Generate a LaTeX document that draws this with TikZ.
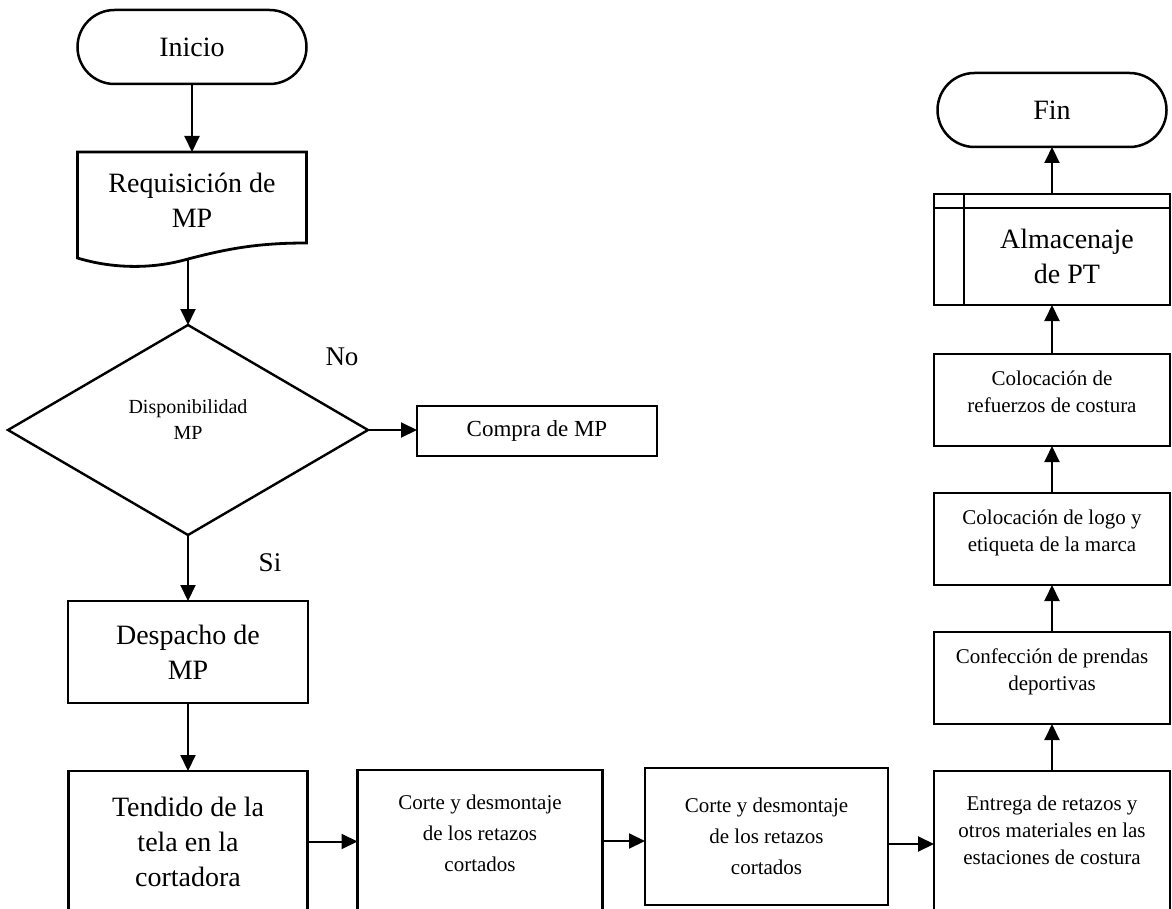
\documentclass[tikz,border=0pt]{standalone}
\usepackage{fontspec}
\setmainfont{Liberation Serif}
\usetikzlibrary{shapes.geometric,arrows.meta}

\newcommand{\grande}{\fontsize{28}{35}\selectfont}
\newcommand{\medio}{\fontsize{21}{27}\selectfont}

\begin{document}
\begin{tikzpicture}[x=1pt,y=-1pt,
	caja/.style={draw,rectangle,line width=2.8pt,align=center,inner sep=0pt,outer sep=0pt},
	terminal/.style={draw,rectangle,rounded corners=37pt,line width=2.5pt,minimum width=229pt,minimum height=74pt,outer sep=0pt,font=\grande},
	arriba/.style={text depth=16pt},
	flecha/.style={-{Triangle[length=16pt,width=15pt]},line width=2pt}]
	\useasboundingbox (0,0) rectangle (1172,909);
	
	% columna izquierda
	\node[terminal] (inicio) at (192,47) {Inicio};
	\node[font=\grande,align=center,minimum width=229pt,minimum height=96pt,inner sep=0pt,outer sep=0pt] (req) at (192,200) {Requisición de\\MP};
	\coordinate (reqbot) at (188,259);
	\draw[line width=2.8pt] (req.north west) -- (req.north east) -- ([yshift=5pt]req.south east) .. controls (260,243) and (230,248) .. (reqbot) .. controls (150,270) and (110,268) .. ([yshift=-10pt]req.south west) -- cycle;%documento
	\node[draw,diamond,line width=2.4pt,minimum width=360pt,minimum height=210pt,inner sep=0pt,outer sep=0pt,align=center,font=\fontsize{20}{26}\selectfont,text depth=20pt] (dispo) at (188,430) {Disponibilidad\\MP};
	\node[font=\fontsize{27}{30}\selectfont] (no) at (342,357) {No};
	\node[font=\fontsize{27}{30}\selectfont] (si) at (270,563) {Si};
	\node[caja,font=\fontsize{23}{27}\selectfont,minimum width=240pt,minimum height=50pt] (compra) at (537,431) {Compra de MP};
	\node[caja,font=\grande,minimum width=240pt,minimum height=102pt] (despacho) at (188,652) {Despacho de\\MP};
	
	% fila de abajo
	\node[caja,font=\grande,minimum width=239pt,minimum height=141pt] (tendido) at (188,841.5) {Tendido de la\\tela en la\\cortadora};
	\node[caja,arriba,font=\fontsize{21}{31}\selectfont,minimum width=245pt,minimum height=142pt] (corteA) at (480,841) {Corte y desmontaje\\de los retazos\\cortados};
	\node[caja,font=\fontsize{21}{31}\selectfont,minimum width=243pt,minimum height=137pt] (corteB) at (766.5,836.5) {Corte y desmontaje\\de los retazos\\cortados};
	\node[caja,font=\medio,text depth=28pt,minimum width=236pt,minimum height=146pt] (entrega) at (1052,844) {Entrega de retazos y\\otros materiales en las\\estaciones de costura};
	
	% columna derecha
	\node[caja,arriba,font=\medio,minimum width=236pt,minimum height=92pt] (confec) at (1052,678) {Confección de prendas\\deportivas};
	\node[caja,arriba,font=\medio,minimum width=236pt,minimum height=92pt] (collogo) at (1052,539) {Colocación de logo y\\etiqueta de la marca};
	\node[caja,arriba,font=\medio,minimum width=236pt,minimum height=92pt] (colref) at (1052,400) {Colocación de\\refuerzos de costura};
	\node[caja,font=\grande,minimum width=206pt,minimum height=97pt] (almac) at (1067,256.5) {Almacenaje\\de PT};
	\draw[line width=2.8pt] ([shift={(-30pt,14pt)}]almac.north west) rectangle (almac.south east);
	\draw[line width=2.8pt] (almac.north west) -- ([yshift=14pt]almac.north west) (almac.north west) -- ([xshift=-30pt]almac.north west);%proceso predefinido
	\coordinate (almtop) at (1052,194);
	\node[terminal] (fin) at (1052,110) {Fin};
	
	% flechas
	\draw[flecha] (inicio.south) -- (req.north);
	\draw[flecha] (reqbot) -- (dispo.north);
	\draw[flecha] (dispo.east) -- (dispo.east -| compra.west);
	\draw[flecha] (dispo.south) -- (despacho.north);
	\draw[flecha] (despacho.south) -- (tendido.north);
	\draw[flecha] (tendido.east) -- (tendido.east -| corteA.west);
	\draw[flecha] (corteA.east) -- (corteA.east -| corteB.west);
	\draw[flecha] (entrega.west -| corteB.east) -- (entrega.west);
	\draw[flecha] (entrega.north) -- (confec.south);
	\draw[flecha] (confec.north) -- (collogo.south);
	\draw[flecha] (collogo.north) -- (colref.south);
	\draw[flecha] (colref.north) -- (colref.north |- almac.south);
	\draw[flecha] (almtop) -- (fin.south);
\end{tikzpicture}
\end{document}
